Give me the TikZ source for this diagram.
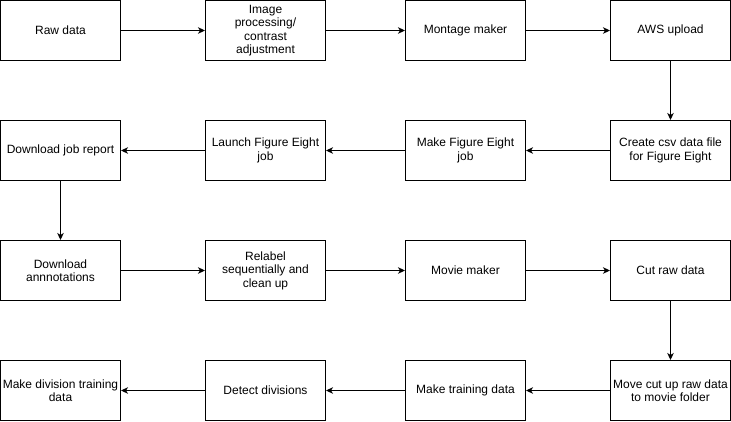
\documentclass[tikz,border=0pt]{standalone}
\usepackage{fontspec}
\setmainfont{Liberation Sans}
\usetikzlibrary{arrows.meta}
\begin{document}
\begin{tikzpicture}[x=1pt,y=-1pt,
  box/.style={draw=black,line width=1pt,minimum width=120pt,minimum height=60pt,inner sep=1pt,align=center,font=\fontsize{12}{13.5}\selectfont},
  conn/.style={line width=1pt,-{Stealth[length=7pt,width=6.5pt,inset=2pt]}}]
\useasboundingbox (0,0) rectangle (731,421);
% row 1
\node[box] (raw) at (60.5,30.5) {Raw data};
\node[box] (img) at (265.5,30.5) {Image\\processing/\\contrast\\adjustment};
\node[box] (mont) at (465.5,30.5) {Montage maker};
\node[box] (aws) at (670.5,30.5) {AWS upload};
% row 2
\node[box] (csv) at (670.5,150.5) {Create csv data file\\for Figure Eight};
\node[box] (make8) at (465.5,150.5) {Make Figure Eight\\job};
\node[box] (launch) at (265.5,150.5) {Launch Figure Eight\\job};
\node[box] (report) at (60.5,150.5) {Download job report};
% row 3
\node[box] (annot) at (60.5,270.5) {Download\\annnotations};
\node[box] (relab) at (265.5,270.5) {Relabel\\sequentially and\\clean up};
\node[box] (movie) at (465.5,270.5) {Movie maker};
\node[box] (cut) at (670.5,270.5) {Cut raw data};
% row 4
\node[box] (move) at (670.5,390.5) {Move cut up raw data\\to movie folder};
\node[box] (train) at (465.5,390.5) {Make training data};
\node[box] (detect) at (265.5,390.5) {Detect divisions};
\node[box] (divtrain) at (60.5,390.5) {Make division training\\data};
% connectors
\draw[conn] (raw) -- (img);
\draw[conn] (img) -- (mont);
\draw[conn] (mont) -- (aws);
\draw[conn] (aws) -- (csv);
\draw[conn] (csv) -- (make8);
\draw[conn] (make8) -- (launch);
\draw[conn] (launch) -- (report);
\draw[conn] (report) -- (annot);
\draw[conn] (annot) -- (relab);
\draw[conn] (relab) -- (movie);
\draw[conn] (movie) -- (cut);
\draw[conn] (cut) -- (move);
\draw[conn] (move) -- (train);
\draw[conn] (train) -- (detect);
\draw[conn] (detect) -- (divtrain);
\end{tikzpicture}
\end{document}
